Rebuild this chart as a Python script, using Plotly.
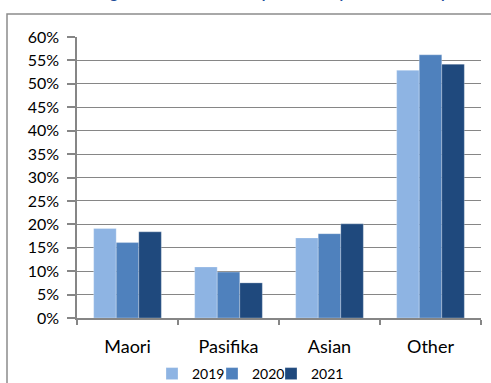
import plotly.graph_objects as go

categories = ["Maori", "Pasifika", "Asian", "Other"]
years = ["2019", "2020", "2021"]
values_2019 = [0.191, 0.109, 0.171, 0.529]
values_2020 = [0.161, 0.098, 0.180, 0.562]
values_2021 = [0.184, 0.075, 0.201, 0.542]
colors = ["#8EB4E3", "#4F81BD", "#1F497D"]
y_ticks = [i * 0.05 for i in range(13)]
y_ticklabels = [f"{i*5}%" for i in range(13)]

W, H = 491, 383
L, R, T, B = 77, 10, 37, 65
pw, ph = W - L - R, H - T - B

def px_x(px):
    return (px - L) / pw

def px_y(py):
    return (H - B - py) / ph

FONT = "Lato, 'Liberation Sans', sans-serif"

legend_names = ["legend", "legend2", "legend3"]
legend_left_px = [152, 212, 271]

fig = go.Figure()
for name, vals, c, lg in zip(years, [values_2019, values_2020, values_2021], colors, legend_names):
    fig.add_trace(go.Bar(
        x=categories, y=vals, name=name, legend=lg,
        marker=dict(color=c, line=dict(color="rgba(255,255,255,0.35)", width=0.8)),
    ))

legend_common = dict(
    orientation="h", yanchor="middle", xanchor="left",
    font=dict(size=14, family=FONT), bgcolor="rgba(0,0,0,0)",
)
layout_legends = {}
for lg, lx in zip(legend_names, legend_left_px):
    layout_legends[lg] = dict(legend_common, x=px_x(lx), y=px_y(374))

fig.update_layout(
    width=W, height=H,
    margin=dict(l=L, r=R, t=T, b=B, autoexpand=False),
    paper_bgcolor="white", plot_bgcolor="white",
    barmode="group", bargap=0.33, bargroupgap=0,
    font=dict(family=FONT, color="#000000"),
    showlegend=True,
    xaxis=dict(
        showline=True, linecolor="#868686", linewidth=1.5,
        ticks="outside", tickson="boundaries", ticklen=5, tickcolor="#868686", tickwidth=1.5,
        tickfont=dict(size=18, family=FONT), showgrid=False, ticklabelstandoff=12,
    ),
    yaxis=dict(
        range=[0, 0.6], tickvals=y_ticks, ticktext=y_ticklabels,
        showline=True, linecolor="#868686", linewidth=1.5,
        ticks="outside", ticklen=8, tickcolor="#868686", tickwidth=1.5,
        showgrid=True, gridcolor="#868686", gridwidth=1.2,
        tickfont=dict(size=16, family=FONT), zeroline=False, ticklabelstandoff=5,
    ),
    shapes=[dict(
        type="rect", xref="paper", yref="paper",
        x0=px_x(7), x1=px_x(500), y0=px_y(395), y1=px_y(14),
        line=dict(color="#8C8C8C", width=1.5), fillcolor="rgba(0,0,0,0)", layer="below",
    )],
    annotations=[dict(
        text="<b>Percentage of Total Enrolments per Ethnicity for Each Group</b>",
        xref="paper", yref="paper", x=px_x(250), y=px_y(-8),
        xanchor="center", yanchor="middle", showarrow=False,
        font=dict(size=15, color="#1F4E9A", family=FONT),
    )],
    **layout_legends,
)

fig.write_html("out.html")
